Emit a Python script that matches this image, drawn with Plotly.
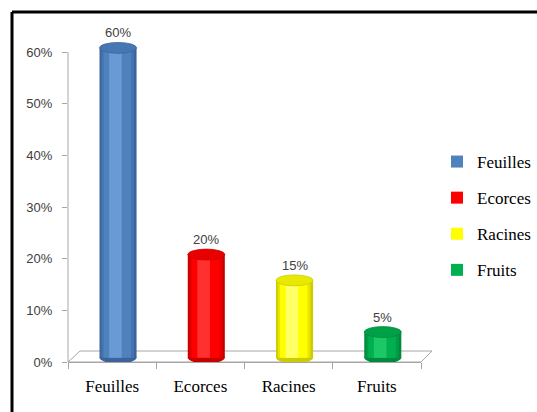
import plotly.graph_objects as go

categories = ["Feuilles", "Ecorces", "Racines", "Fruits"]
values = [0.60, 0.20, 0.15, 0.05]
labels = ["60%", "20%", "15%", "5%"]
base_colors = ["#4F81BD", "#FF0000", "#FFFF00", "#00B050"]
dark_colors = ["#3B659A", "#C80000", "#CCCC00", "#008A3E"]
mid_colors = ["#4474B0", "#E60000", "#E6E600", "#009C46"]
light_colors = ["#6A9AD6", "#FF3030", "#FFFF66", "#1CC866"]
top_colors = ["#4677B3", "#E80000", "#E8E800", "#00A048"]
y_ticks = [0, 0.1, 0.2, 0.3, 0.4, 0.5, 0.6]

W, H = 537, 412
ML, MR, MT, MB = 68, 116, 30, 50
pw = W - ML - MR
ph = H - MT - MB
y_px_per_unit = 310 / 0.6          # 0% at y=362, 60% at y=52
y_top = ph / y_px_per_unit
depth = 0.008       # 3D shift of the cylinders (data units)
cap = 0.0105        # half-height of elliptical caps (data units)
bw = 0.42           # cylinder width (category units)
boff = 0.067        # cylinder centre offset (category units)

fig = go.Figure()
shapes = []
annotations = []
for i, (c, v) in enumerate(zip(categories, values)):
    cx = boff
    layers = [(1.0, 0.0, dark_colors[i], False),
              (0.88, -0.01, mid_colors[i], False),
              (0.74, -0.02, base_colors[i], True),
              (0.34, -0.07, light_colors[i], False)]
    for frac, shift, col, leg in layers:
        w = bw * frac
        fig.add_trace(go.Bar(
            x=[c], y=[v], base=[depth], name=c,
            width=w, offset=cx + shift * bw - w / 2,
            marker=dict(color=col, line=dict(width=0)),
            showlegend=leg, legendgroup=c, hoverinfo="skip"))
    x0 = i + cx - bw / 2
    x1 = i + cx + bw / 2
    shapes.append(dict(type="circle", xref="x", yref="y", layer="below",
                       x0=x0, x1=x1, y0=depth - cap, y1=depth + cap,
                       fillcolor=dark_colors[i], line=dict(width=0)))
    shapes.append(dict(type="circle", xref="x", yref="y", layer="above",
                       x0=x0, x1=x1, y0=v + depth - cap, y1=v + depth + cap,
                       fillcolor=top_colors[i],
                       line=dict(width=0.8, color=dark_colors[i])))
    annotations.append(dict(x=i + cx, y=v + depth + cap, xref="x", yref="y",
                            text=labels[i], showarrow=False, yanchor="bottom",
                            yshift=0,
                            font=dict(family="Liberation Sans", size=13,
                                      color="#404040")))

# 3D floor (paper coordinates)
dx = 12 / pw
dy = 11 / ph
shapes.append(dict(type="path", xref="paper", yref="paper", layer="below",
                   path=f"M 0 0 L {dx} {dy} L {1 + dx * 0.92} {dy} L 1 0 Z",
                   fillcolor="white", line=dict(color="#A6A6A6", width=1)))
# value axis line, from 0% up to 60%
shapes.append(dict(type="line", xref="paper", yref="y", x0=0, x1=0,
                   y0=0, y1=max(y_ticks),
                   line=dict(color="#A6A6A6", width=1)))

# outer frame (top and left edges)
fy = (H - MB - 12) / ph
fx = (12 - ML) / pw
shapes.append(dict(type="line", xref="paper", yref="paper",
                   x0=fx, x1=(W + 5 - ML) / pw, y0=fy, y1=fy,
                   line=dict(color="black", width=3)))
shapes.append(dict(type="line", xref="paper", yref="paper",
                   x0=fx, x1=fx, y0=fy, y1=-(MB + 10) / ph,
                   line=dict(color="black", width=3)))

fig.update_layout(
    width=W, height=H,
    margin=dict(l=ML, r=MR, t=MT, b=MB, autoexpand=False),
    paper_bgcolor="white", plot_bgcolor="rgba(0,0,0,0)",
    barmode="overlay",
    shapes=shapes, annotations=annotations,
    legend=dict(x=(437 - ML) / pw, y=(H - MB - 144) / ph, xanchor="left",
                yanchor="top", tracegroupgap=11,
                font=dict(family="Liberation Serif", size=17, color="black"),
                bgcolor="rgba(0,0,0,0)"),
    showlegend=True,
)
fig.update_xaxes(type="category", categoryorder="array",
                 categoryarray=categories, range=[-0.5, 3.5],
                 showline=True, linecolor="#A6A6A6", linewidth=1,
                 ticks="outside", tickson="boundaries", ticklen=6,
                 tickcolor="#A6A6A6", ticklabelstandoff=9,
                 showgrid=False, zeroline=False,
                 tickfont=dict(family="Liberation Serif", size=17,
                               color="black"))
fig.update_yaxes(range=[0, y_top], tickvals=y_ticks, tickformat=".0%",
                 showline=False, ticks="outside", ticklen=5,
                 tickcolor="#A6A6A6", ticklabelstandoff=7,
                 showgrid=False, zeroline=False,
                 tickfont=dict(family="Liberation Sans", size=13,
                               color="#404040"))

fig.write_html("out.html",
               config={"displayModeBar": False},
               post_script="document.body.style.margin='0';"
                           "document.body.style.overflow='hidden';")
